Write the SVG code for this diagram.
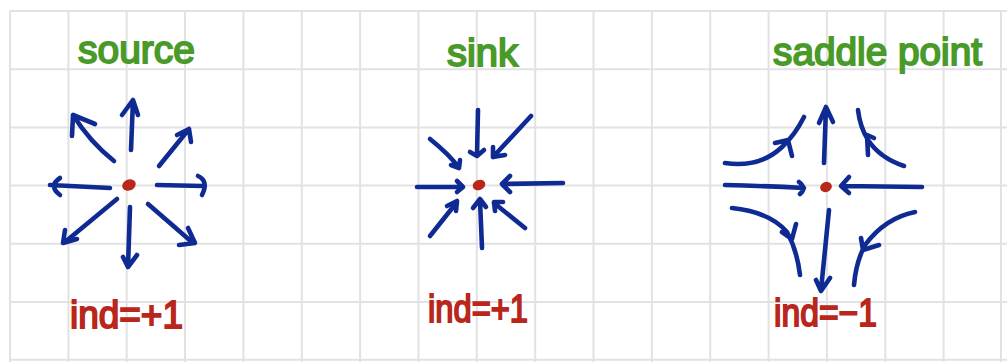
<svg xmlns="http://www.w3.org/2000/svg" width="1007" height="362" viewBox="0 0 1007 362">
<defs>
<style>
.grid line{stroke:#e2e2e2;stroke-width:2}
.fl{fill:none;stroke:#0f2b93;stroke-width:4.6;stroke-linecap:round;stroke-linejoin:round}
.dot{fill:#b8261c}
.ttl{font-family:"Liberation Sans","Open Sans",sans-serif;font-size:38px;fill:#4a9a2a;stroke:#4a9a2a;stroke-width:1.8}
.ind{font-family:"Liberation Sans","Open Sans",sans-serif;font-size:38px;fill:#b8261c;stroke:#b8261c;stroke-width:1.8}
</style>
</defs>
<rect width="1007" height="362" fill="#ffffff"/>
<g class="grid">
<line x1="10" y1="11" x2="10" y2="362"/><line x1="68.4" y1="11" x2="68.4" y2="362"/><line x1="126.7" y1="11" x2="126.7" y2="362"/><line x1="185" y1="11" x2="185" y2="362"/><line x1="243.4" y1="11" x2="243.4" y2="362"/><line x1="301.8" y1="11" x2="301.8" y2="362"/><line x1="360.1" y1="11" x2="360.1" y2="362"/><line x1="418.5" y1="11" x2="418.5" y2="362"/><line x1="476.8" y1="11" x2="476.8" y2="362"/><line x1="535.2" y1="11" x2="535.2" y2="362"/><line x1="593.5" y1="11" x2="593.5" y2="362"/><line x1="651.9" y1="11" x2="651.9" y2="362"/><line x1="710.2" y1="11" x2="710.2" y2="362"/><line x1="768.6" y1="11" x2="768.6" y2="362"/><line x1="826.9" y1="11" x2="826.9" y2="362"/><line x1="885.3" y1="11" x2="885.3" y2="362"/><line x1="943.6" y1="11" x2="943.6" y2="362"/><line x1="1001" y1="11" x2="1001" y2="362"/>
<line x1="10" y1="11" x2="1007" y2="11"/><line x1="10" y1="69.2" x2="1007" y2="69.2"/><line x1="10" y1="127.4" x2="1007" y2="127.4"/><line x1="10" y1="185.6" x2="1007" y2="185.6"/><line x1="10" y1="243.8" x2="1007" y2="243.8"/><line x1="10" y1="302" x2="1007" y2="302"/><line x1="10" y1="359.8" x2="1007" y2="359.8"/>
</g>
<g id="source">
<text class="ttl" x="78" y="63" textLength="117" lengthAdjust="spacingAndGlyphs">source</text>
<ellipse class="dot" cx="129" cy="185" rx="7" ry="5.5" transform="rotate(-25 129 185)"/>
<text class="ind" x="70" y="328" textLength="113" lengthAdjust="spacingAndGlyphs">ind=+1</text>
</g>
<g id="sink">
<text class="ttl" x="447" y="66" textLength="71" lengthAdjust="spacingAndGlyphs">sink</text>
<ellipse class="dot" cx="479" cy="185" rx="6.5" ry="5" transform="rotate(-20 479 185)"/>
<text class="ind" x="428" y="322" textLength="100" lengthAdjust="spacingAndGlyphs">ind=+1</text>
</g>
<g id="saddle">
<text class="ttl" x="773" y="65" textLength="209" lengthAdjust="spacingAndGlyphs">saddle point</text>
<ellipse class="dot" cx="826" cy="187" rx="6" ry="5" transform="rotate(-20 826 187)"/>
<text class="ind" x="774" y="326" textLength="103" lengthAdjust="spacingAndGlyphs">ind=−1</text>
</g>
<g id="connectors">
<path class="fl" d="M131 150 L133 100 M122 115 L133 100 L138 115"/>
<path class="fl" d="M114 161 Q90 142 73 115 M72 136 L73 115 L95 124"/>
<path class="fl" d="M159 166 L189 129 M177 135 L189 129 L191 142"/>
<path class="fl" d="M157 185 L203 186 M198 176 Q209 181 202 195"/>
<path class="fl" d="M110 188 L50 185 M60 178 Q48 186 60 195"/>
<path class="fl" d="M117 199 L65 242 M65 230 L63 243 L77 239"/>
<path class="fl" d="M130 207 L128 267 M123 257 L128 267 L137 255"/>
<path class="fl" d="M148 204 L193 243 M188 228 L195 243 L179 245"/>
<path class="fl" d="M478 110 L477 155 M470 152 L477 156 L484 150"/>
<path class="fl" d="M531 116 L493 157 M493 147 L493 157 L505 155"/>
<path class="fl" d="M430 139 Q450 155 459 168 M451 165 L459 168 L460 160"/>
<path class="fl" d="M417 187 L463 187 M457 181 L463 187 L457 192"/>
<path class="fl" d="M563 183 L502 184 M510 176 L502 184 L510 192"/>
<path class="fl" d="M430 236 L457 202 M447 206 L457 201 L456 211"/>
<path class="fl" d="M482 248 L480 200 M473 208 L480 199 L486 207"/>
<path class="fl" d="M525 228 L494 203 M495 211 L494 202 L503 202"/>
<path class="fl" d="M824 163 L826 107 M819 123 L826 107 L833 122"/>
<path class="fl" d="M829 210 L821 290 M816 280 L821 291 L830 278"/>
<path class="fl" d="M725 185 Q765 186 804 188 M799 182 Q807 188 800 194"/>
<path class="fl" d="M922 187 L842 186 M849 177 L841 186 L849 193"/>
<path class="fl" d="M725 163 Q760 168 782 147 Q795 135 804 117 M775 143 L788 140 L792 156"/>
<path class="fl" d="M904 166 Q880 158 868 140 Q860 127 858 110 M868 155 L867 135 L874 138"/>
<path class="fl" d="M732 208 Q770 212 787 232 Q797 250 800 275 M782 232 L792 239 L796 224"/>
<path class="fl" d="M915 212 Q885 218 865 245 Q856 262 854 285 M861 238 L863 250 L879 245"/>
</g>
</svg>
